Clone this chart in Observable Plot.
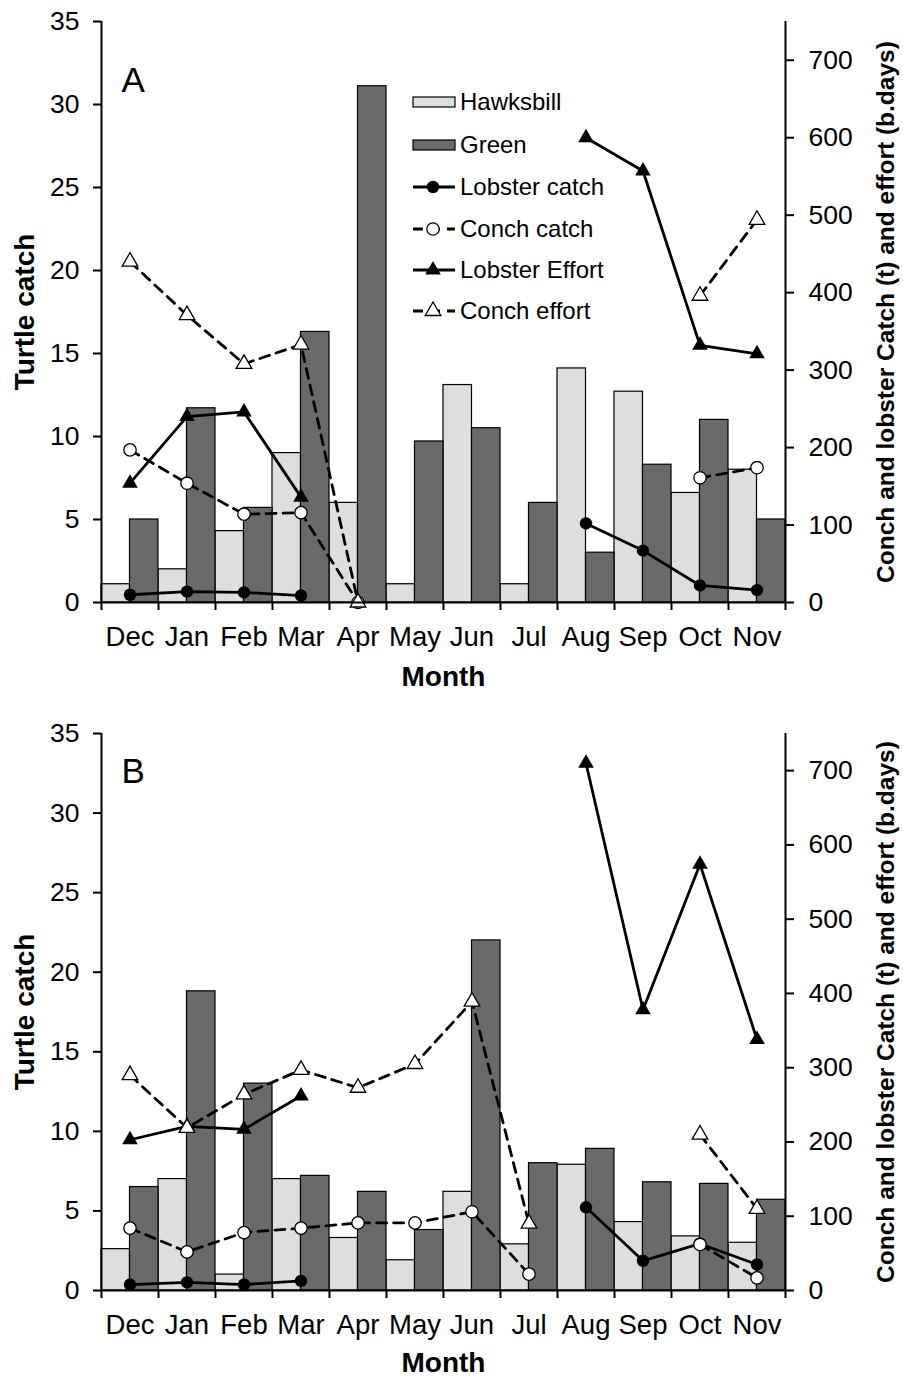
<!DOCTYPE html>
<html>
<head>
<meta charset="utf-8">
<script src="https://cdn.jsdelivr.net/npm/d3@7"></script>
<script src="https://cdn.jsdelivr.net/npm/@observablehq/plot@0.6"></script>
<style>
  html, body { margin: 0; padding: 0; background: #fff; }
  #wrap { position: relative; width: 903px; height: 1378px; font-family: "Liberation Sans", Arial, sans-serif; }
  #wrap svg { display: block; }
  #legend { position: absolute; left: 0; top: 0; }
</style>
</head>
<body>
<div id="wrap"></div>
<script>
// ---- data ----
const months = ["Dec","Jan","Feb","Mar","Apr","May","Jun","Jul","Aug","Sep","Oct","Nov"];
const leftTicks = [0, 5, 10, 15, 20, 25, 30, 35];
const rightTicks = [0, 100, 200, 300, 400, 500, 600, 700];

// Panel A
const hawkA  = [1.1, 2.0, 4.3, 9.0, 6.0, 1.1, 13.1, 1.1, 14.1, 12.7, 6.6, 8.0];
const greenA = [5.0, 11.7, 5.7, 16.3, 31.1, 9.7, 10.5, 6.0, 3.0, 8.3, 11.0, 5.0];
const lobCatchA   = [10, 14, 13, 9, null, null, null, null, 102, 67, 22, 16];
const conchCatchA = [197, 154, 114, 116, 0, null, null, null, null, null, 161, 174];
const lobEffA     = [154, 240, 246, 136, null, null, null, null, 600, 557, 332, 321];
const conchEffA   = [440, 371, 308, 333, 0, null, null, null, null, null, 396, 494];

// Panel B
const hawkB  = [2.6, 7.0, 1.0, 7.0, 3.3, 1.9, 6.2, 2.9, 7.9, 4.3, 3.4, 3.0];
const greenB = [6.5, 18.8, 13.0, 7.2, 6.2, 3.8, 22.0, 8.0, 8.9, 6.8, 6.7, 5.7];
const lobCatchB   = [8, 11, 8, 13, null, null, null, null, 112, 40, 63, 35];
const conchCatchB = [84, 52, 78, 84, 91, 91, 106, 22, null, null, 62, 17];
const lobEffB     = [203, 221, 217, 262, null, null, null, null, 710, 378, 574, 338];
const conchEffB   = [290, 219, 264, 297, 273, 305, 389, 90, null, null, 210, 110];

const legendItems = ["Hawksbill", "Green", "Lobster catch", "Conch catch", "Lobster Effort", "Conch effort"];

// ---- drawing ----
const K = 35 / 750; // right-axis units -> left-axis units
const FONT = "Liberation Sans, Arial, sans-serif";
const HAWK = "#dedede", GREEN = "#6a6a6a";
const DASH = "10,7";

function panel(cfg) {
  const rows = months.map((m, i) => ({
    m, i, c: i + 0.5,
    hawk: cfg.hawk[i], green: cfg.green[i],
    lc: cfg.lc[i], cc: cfg.cc[i], le: cfg.le[i], ce: cfg.ce[i]
  }));
  const yr = k => d => d[k] == null ? NaN : d[k] * K;
  return Plot.plot({
    width: 903,
    height: cfg.height,
    marginTop: cfg.marginTop,
    marginBottom: cfg.marginBottom,
    marginLeft: 101,
    marginRight: 118,
    x: { domain: [0, 12] },
    y: { domain: [0, 35] },
    style: { fontFamily: FONT, background: "white", color: "black", overflow: "visible" },
    marks: [
      Plot.rect(rows, { x1: "i", x2: d => d.i + 0.5, y1: 0, y2: "hawk", fill: HAWK, stroke: "black", strokeWidth: 1.2 }),
      Plot.rect(rows, { x1: d => d.i + 0.5, x2: d => d.i + 1, y1: 0, y2: "green", fill: GREEN, stroke: "black", strokeWidth: 1.2 }),
      // lines
      Plot.line(rows, { x: "c", y: yr("lc"), stroke: "black", strokeWidth: 2.8 }),
      Plot.line(rows, { x: "c", y: yr("cc"), stroke: "black", strokeWidth: 2.8, strokeDasharray: DASH }),
      Plot.line(rows, { x: "c", y: yr("le"), stroke: "black", strokeWidth: 2.8 }),
      Plot.line(rows, { x: "c", y: yr("ce"), stroke: "black", strokeWidth: 2.8, strokeDasharray: DASH }),
      // markers
      Plot.dot(rows, { x: "c", y: yr("lc"), r: 6.2, fill: "black", stroke: "none" }),
      Plot.dot(rows, { x: "c", y: yr("cc"), r: 6.2, fill: "white", stroke: "black", strokeWidth: 1.3 }),
      Plot.dot(rows, { x: "c", y: yr("le"), symbol: "triangle", r: 5.8, fill: "black", stroke: "none" }),
      Plot.dot(rows, { x: "c", y: yr("ce"), symbol: "triangle", r: 5.8, fill: "white", stroke: "black", strokeWidth: 1.3 }),
      // axis lines
      Plot.ruleY([0], { stroke: "black", strokeWidth: 2 }),
      Plot.ruleX([0, 12], { stroke: "black", strokeWidth: 2 }),
      // axes
      Plot.axisY({ anchor: "left", ticks: leftTicks, tickSize: 8, tickPadding: 14, fontSize: 26.5, strokeWidth: 2, label: null }),
      Plot.axisY({ anchor: "right", ticks: rightTicks.map(v => v * K), tickFormat: d => String(Math.round(d / K)),
                   tickSize: 8, tickPadding: 15, fontSize: 26.5, strokeWidth: 2, textAnchor: "start", label: null }),
      Plot.axisX({ ticks: d3.range(13), tickFormat: () => "", tickSize: 8, strokeWidth: 2, label: null }),
      Plot.axisX({ ticks: months.map((m, i) => i + 0.5), tickFormat: d => months[Math.floor(d)],
                   tickSize: 0, tickPadding: 24, fontSize: 27.5, label: null }),
      // titles
      Plot.text(["Turtle catch"], { frameAnchor: "left", dx: -76, rotate: -90, textAnchor: "middle", lineAnchor: "middle", fontSize: 28, fontWeight: "bold" }),
      Plot.text(["Conch and lobster Catch (t) and effort (b.days)"], { frameAnchor: "right", dx: 101, rotate: -90, textAnchor: "middle", lineAnchor: "middle", fontSize: 24.5, fontWeight: "bold" }),
      Plot.text(["Month"], { frameAnchor: "bottom", dy: cfg.monthDy, textAnchor: "middle", lineAnchor: "middle", fontSize: 28, fontWeight: "bold" }),
      Plot.text([cfg.letter], { frameAnchor: "top-left", dx: 20, dy: cfg.letterDy, textAnchor: "start", lineAnchor: "middle", fontSize: 35 })
    ]
  });
}

const wrap = document.getElementById("wrap");
wrap.appendChild(panel({
  letter: "A", letterDy: 59, monthDy: 75, height: 690, marginTop: 21, marginBottom: 88,
  hawk: hawkA, green: greenA, lc: lobCatchA, cc: conchCatchA, le: lobEffA, ce: conchEffA
}));
wrap.appendChild(panel({
  letter: "B", letterDy: 38, monthDy: 73, height: 688, marginTop: 43, marginBottom: 88,
  hawk: hawkB, green: greenB, lc: lobCatchB, cc: conchCatchB, le: lobEffB, ce: conchEffB
}));

// legend overlay (panel A)
const lg = d3.select(wrap).append("svg").attr("id", "legend")
  .attr("width", 903).attr("height", 400)
  .style("font-family", FONT);
const x0 = 413, x1 = 455, rowY = [102, 145, 187, 229, 270, 311];
legendItems.forEach((name, k) => {
  const y = rowY[k];
  const g = lg.append("g");
  if (k < 2) {
    g.append("rect").attr("x", x0).attr("y", y - 5).attr("width", x1 - x0).attr("height", 10)
      .attr("fill", k === 0 ? HAWK : GREEN).attr("stroke", "black").attr("stroke-width", 1.2);
  } else {
    const dashed = (k === 3 || k === 5);
    g.append("line").attr("x1", x0).attr("x2", x1).attr("y1", y).attr("y2", y)
      .attr("stroke", "black").attr("stroke-width", 2.8)
      .attr("stroke-dasharray", dashed ? DASH : null);
    const cx = (x0 + x1) / 2 - 1;
    const filled = (k === 2 || k === 4);
    if (k === 2 || k === 3) {
      g.append("circle").attr("cx", cx).attr("cy", y).attr("r", 6.2)
        .attr("fill", filled ? "black" : "white").attr("stroke", filled ? "none" : "black").attr("stroke-width", 1.3);
    } else {
      g.append("path").attr("transform", `translate(${cx},${y})`)
        .attr("d", d3.symbol(d3.symbolTriangle, Math.PI * 5.8 * 5.8)())
        .attr("fill", filled ? "black" : "white").attr("stroke", filled ? "none" : "black").attr("stroke-width", 1.3);
    }
  }
  g.append("text").attr("x", 460).attr("y", y).attr("dy", "0.35em")
    .attr("font-size", 24).text(name);
});
</script>
</body>
</html>
